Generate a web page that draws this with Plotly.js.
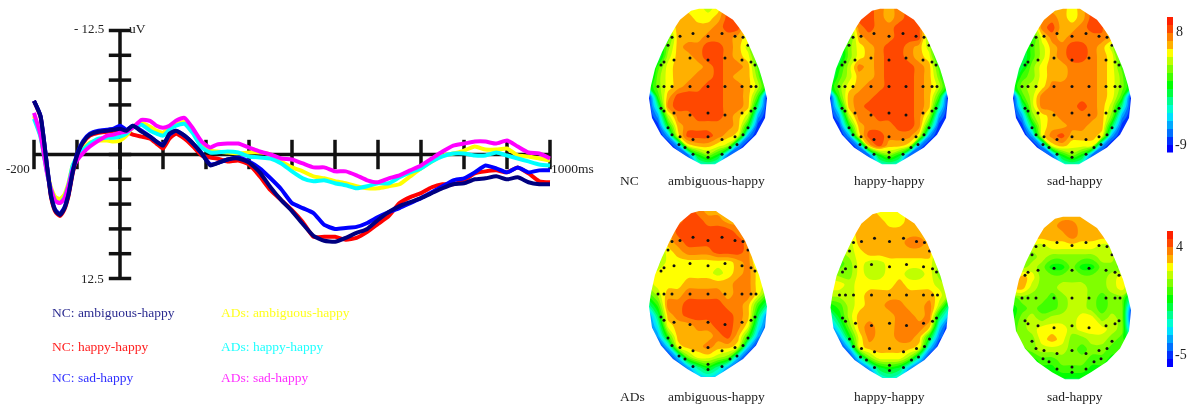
<!DOCTYPE html>
<html><head><meta charset="utf-8">
<script src="https://cdn.plot.ly/plotly-3.0.1.min.js"></script>
<style>html,body{margin:0;padding:0;background:#fff;overflow:hidden}#g{width:1192px;height:407px;filter:blur(0.4px)}</style>
</head><body><div id="g"></div>
<script>
// ---------- ERP waveforms (uV, negative up) ----------
const timesMs=[-200,-185,-170,-160,-150,-140,-130,-120,-110,-100,-85,-70,-50,-30,-15,0,15,30,50,70,85,100,115,130,150,170,190,210,225,250,275,300,325,350,375,400,425,450,475,500,525,550,575,600,625,650,675,700,725,750,775,800,825,850,875,900,925,950,975,1000];
const ncAmbiguous=[-5.4,-3.9,1.1,4.3,5.7,6.1,5.5,4.1,1.8,0.1,-1.3,-2.0,-2.3,-2.4,-2.5,-2.6,-2.4,-2.9,-2.3,-1.8,-1.3,-0.9,-2.1,-2.4,-1.9,-1.1,-0.1,1.1,0.9,0.5,0.4,0.8,1.8,3.3,4.6,5.7,7.0,8.2,8.7,8.8,8.4,7.9,7.5,6.6,5.8,5.2,4.8,4.4,3.9,3.4,3.0,2.9,2.5,2.4,2.2,2.5,2.3,2.8,3.0,3.0];
const ncHappy=[-5.4,-3.8,1.1,4.4,5.8,6.2,5.6,4.2,1.9,0.2,-1.2,-1.9,-2.2,-2.3,-2.4,-2.5,-2.3,-2.0,-1.8,-1.6,-1.1,-0.6,-1.6,-2.1,-1.6,-0.8,0.1,0.3,0.4,0.7,0.6,1.0,2.2,3.6,4.6,5.6,6.8,8.3,8.3,8.3,8.6,8.4,7.8,7.0,6.2,4.9,4.3,3.9,3.3,3.0,3.0,2.6,1.9,1.7,1.6,1.8,1.3,1.9,2.7,2.8];
const ncSad=[-5.4,-3.9,1.0,4.2,5.6,6.0,5.4,4.0,1.7,0.0,-1.4,-2.1,-2.4,-2.5,-2.6,-2.9,-2.5,-2.9,-2.4,-1.8,-1.3,-1.0,-2.0,-2.4,-1.9,-1.1,-0.1,1.0,0.9,0.5,0.3,0.7,1.4,2.4,3.5,4.9,5.4,5.9,7.1,7.5,7.4,7.3,6.9,6.3,5.8,5.4,4.9,4.4,3.8,3.2,2.6,2.4,1.8,1.1,1.4,1.8,1.3,1.8,1.6,1.6];
const adAmbiguous=[-3.9,-1.9,1.6,3.4,4.3,4.5,4.1,2.9,1.1,0.3,-0.6,-1.2,-1.4,-1.4,-1.3,-1.4,-1.9,-2.8,-3.2,-2.8,-2.4,-2.2,-2.7,-3.0,-3.3,-2.3,-0.9,-0.4,-0.3,-0.2,-0.1,-0.2,-0.2,0.0,0.7,1.3,1.7,2.2,2.4,2.7,2.9,3.2,3.4,3.4,3.2,3.0,2.2,1.4,0.7,0.1,-0.1,-0.4,-0.8,-0.5,-0.5,-0.6,0.1,0.2,0.4,0.6];
const adHappy=[-3.6,-1.8,1.8,3.6,4.7,4.9,4.4,3.1,1.1,0.3,-0.5,-1.1,-1.6,-1.7,-1.7,-1.8,-2.1,-2.8,-3.0,-2.4,-2.1,-1.9,-2.5,-2.9,-3.1,-2.1,-0.7,-0.2,-0.2,-0.3,-0.2,0.2,0.3,0.4,0.9,1.7,2.4,2.7,2.6,2.9,3.1,3.4,3.2,2.9,2.9,2.3,1.8,1.4,0.7,0.2,-0.1,-0.1,0.1,0.1,-0.2,0.1,0.4,0.7,1.0,1.1];
const adSad=[-4.2,-2.0,1.8,3.6,4.7,4.9,4.5,3.2,1.5,0.6,-0.2,-0.8,-1.4,-1.9,-2.0,-2.2,-2.3,-2.7,-3.5,-3.4,-2.9,-2.7,-2.9,-3.4,-3.7,-2.6,-1.3,-0.7,-1.0,-1.1,-1.1,-0.7,-0.3,0.0,0.4,0.5,0.9,1.3,1.3,1.7,1.7,2.1,2.6,2.8,2.4,2.1,1.6,1.1,0.4,-0.3,-0.9,-1.1,-1.3,-1.3,-1.1,-1.4,-0.8,-0.2,-0.1,0.4];
const xTicksMs=[-200,-100,0,100,200,300,400,500,600,700,800,900,1000];
const yTicksUv=[-12.5,-10,-7.5,-5,-2.5,0,2.5,5,7.5,10,12.5];
const seriesNames=['NC: happy-happy','ADs: ambiguous-happy','ADs: happy-happy','ADs: sad-happy','NC: sad-happy','NC: ambiguous-happy'];
const seriesColors=['#ff0000','#ffff00','#00ffff','#ff00ff','#0000ff','#000080'];
const seriesValues=[ncHappy,adAmbiguous,adHappy,adSad,ncSad,ncAmbiguous];

// ---------- Topographic band levels (0 = deepest blue .. 16 = red) ----------
const gridX=[-60,-50,-40,-30,-20,-10,0,10,20,30,40,50,60];
const gridY=[-80,-70,-60,-50,-40,-30,-20,-10,0,10,20,30,40,50,60,70,80];
const bandColors=['#0000ff','#0030ff','#0070ff','#00a8ff','#00e0ff','#00ffd0','#00ff90','#00ff40','#00ff00','#40ff00','#80ff00','#c0ff00','#ffff00','#ffb000','#ff8000','#ff4800','#ff2000'];
const mapNcAmbiguous=[
[12,12,12,12,12,12,11,12,15,15,15,15,15],
[12,12,12,13,13,12,12,13,15,15,15,13,12],
[10,10,11,13,13,13,13,14,15,15,12,10,10],
[6,7,9,13,13,13,14,14,14,13,12,8,6],
[6,6,10,13,14,14,15,15,14,13,11,7,6],
[5,6,11,13,13,14,15,15,14,13,12,8,5],
[5,9,12,13,13,13,14,15,14,14,13,9,5],
[5,10,12,13,13,14,14,15,14,13,13,10,5],
[7,10,12,13,14,14,15,15,14,14,13,11,7],
[0,9,13,15,15,15,15,15,14,14,13,9,0],
[0,6,14,15,15,15,15,15,14,14,13,6,0],
[0,3,11,14,14,15,15,15,14,13,11,3,0],
[0,1,8,13,14,14,14,14,14,13,8,1,0],
[0,0,3,12,15,15,15,14,13,12,3,0,0],
[0,0,0,3,12,13,13,12,11,3,0,0,0],
[0,0,0,0,2,8,10,8,2,0,0,0,0],
[0,0,0,0,0,4,5,4,0,0,0,0,0]];
const mapNcHappy=[
[14,14,14,14,15,14,13,14,15,15,15,15,15],
[14,14,14,15,15,14,13,14,15,15,15,15,15],
[9,9,10,14,15,14,14,15,15,15,11,9,9],
[6,6,9,13,14,14,14,15,15,15,10,6,6],
[6,6,10,12,13,14,15,15,14,13,11,6,6],
[5,6,10,12,13,14,15,15,14,13,12,7,5],
[5,8,11,14,13,14,15,15,15,14,13,9,5],
[5,9,11,13,13,14,15,15,15,14,13,10,5],
[7,10,12,13,14,14,15,15,15,14,13,11,7],
[0,9,13,14,14,15,15,15,15,14,13,9,0],
[0,6,13,14,15,15,15,15,15,14,13,6,0],
[0,3,11,14,14,15,15,15,15,14,11,3,0],
[0,1,8,13,14,14,14,15,15,14,8,1,0],
[0,0,3,12,15,15,14,14,14,12,3,0,0],
[0,0,0,3,13,15,13,13,12,3,0,0,0],
[0,0,0,0,2,8,10,8,2,0,0,0,0],
[0,0,0,0,0,4,5,4,0,0,0,0,0]];
const mapNcSad=[
[13,13,13,13,13,13,12,13,15,15,15,15,15],
[13,13,13,13,14,13,12,13,15,15,15,13,13],
[10,10,10,14,15,13,13,14,15,15,11,10,10],
[6,6,8,12,14,13,14,14,14,14,13,8,6],
[6,6,9,11,13,14,15,15,14,13,11,7,6],
[5,6,9,11,13,14,15,15,14,13,12,8,5],
[5,7,10,12,13,13,14,14,14,13,12,9,5],
[5,9,10,12,13,13,14,14,14,13,12,10,5],
[7,10,11,12,14,14,14,14,14,13,12,10,7],
[0,9,11,14,14,14,14,14,14,13,12,9,0],
[0,6,11,14,14,14,14,15,14,13,11,6,0],
[0,3,10,12,13,14,14,14,14,13,10,3,0],
[0,1,7,12,13,13,14,14,13,13,7,1,0],
[0,0,3,12,14,15,13,13,13,12,3,0,0],
[0,0,0,3,12,13,12,12,12,3,0,0,0],
[0,0,0,0,2,8,10,8,2,0,0,0,0],
[0,0,0,0,0,4,5,4,0,0,0,0,0]];
const mapAdAmbiguous=[
[14,14,14,14,15,14,13,13,13,13,13,13,13],
[14,14,14,14,15,15,14,14,13,13,13,13,13],
[14,14,13,15,15,15,15,15,15,14,13,13,13],
[10,11,13,14,15,15,15,15,15,15,14,11,10],
[8,10,12,13,14,14,14,15,15,15,14,10,8],
[9,10,12,12,12,12,12,12,12,13,14,11,9],
[11,12,12,12,12,12,12,11,12,13,14,12,11],
[11,12,12,12,13,13,13,13,13,14,14,12,11],
[9,11,13,13,14,14,14,14,13,14,14,12,9],
[6,9,14,14,15,15,15,15,14,14,13,9,6],
[2,7,13,14,15,15,15,15,15,14,13,7,2],
[1,5,12,13,13,14,14,15,15,14,12,5,1],
[0,3,9,13,13,13,13,14,15,13,9,3,0],
[0,0,4,12,13,13,14,13,13,12,4,0,0],
[0,0,0,4,10,12,12,11,10,4,0,0,0],
[0,0,0,0,3,6,8,6,3,0,0,0,0],
[0,0,0,0,0,3,4,3,0,0,0,0,0]];
const mapAdHappy=[
[13,13,13,13,13,12,12,12,13,13,13,13,13],
[13,13,13,13,13,13,12,12,13,13,13,13,13],
[12,12,12,13,13,13,13,13,13,13,13,12,12],
[10,10,11,13,13,13,13,13,14,14,13,12,10],
[9,10,11,12,13,13,13,13,13,13,13,10,9],
[9,9,10,12,11,11,12,12,12,12,12,10,9],
[11,10,10,12,11,11,12,12,11,11,12,10,9],
[12,12,11,12,12,12,12,13,12,12,12,11,10],
[11,11,11,12,13,13,13,13,13,13,13,12,10],
[8,9,11,12,13,13,14,14,13,13,14,11,6],
[5,8,11,13,13,13,13,14,14,13,14,7,3],
[2,6,10,13,14,13,13,14,14,14,13,4,0],
[0,3,8,12,14,13,13,14,14,13,8,2,0],
[0,0,4,12,13,13,13,13,13,12,4,0,0],
[0,0,0,5,10,12,12,12,10,5,0,0,0],
[0,0,0,0,3,7,8,7,3,0,0,0,0],
[0,0,0,0,0,4,5,4,0,0,0,0,0]];
const mapAdSad=[
[13,13,13,13,13,13,13,13,13,13,13,13,13],
[13,13,13,13,13,14,14,13,13,13,13,13,13],
[12,12,13,13,13,13,14,13,13,13,13,12,12],
[11,11,11,11,12,12,12,12,12,11,11,11,11],
[10,10,10,11,10,10,10,10,10,11,11,9,9],
[10,10,11,10,8,8,10,8,8,10,10,9,9],
[11,13,12,10,10,10,10,10,10,10,11,12,10],
[13,13,11,10,10,11,11,11,10,10,11,12,10],
[9,10,10,10,9,10,11,11,10,9,10,10,5],
[8,9,10,9,9,10,11,11,10,9,10,10,1],
[8,10,11,10,11,11,11,12,12,10,11,10,0],
[9,10,11,12,12,12,11,12,12,12,11,10,2],
[9,10,10,12,13,12,10,10,11,11,10,9,6],
[9,9,10,11,11,11,10,9,10,10,9,9,9],
[7,7,8,9,9,10,10,10,9,9,8,8,7],
[7,7,7,8,8,9,9,9,8,8,7,7,7],
[6,6,6,6,7,7,7,7,7,7,7,6,6]];
const mapNames=['NC ambiguous-happy','NC happy-happy','NC sad-happy','ADs ambiguous-happy','ADs happy-happy','ADs sad-happy'];
const mapValues=[mapNcAmbiguous,mapNcHappy,mapNcSad,mapAdAmbiguous,mapAdHappy,mapAdSad];
const mapCenterX=[708,889,1072,708,889.5,1072];
const mapCenterY=[85,85,85,294,295,298];
const mapScaleY=[1,1,1,1.05,1.05,1.03];

// Electrode sites, head-relative
const electrodeX=[-36,-28,-15,0,14,27,35,-40,40,-47,-44,-34,-18,0,17,34,43,47,-50,-44,-36,-18,0,17,34,43,48,-47,-44,-34,-18,0,17,34,43,47,-40,40,-36,-28,-15,0,14,27,35,-29,-23,-15,0,14,22,29,0];
const electrodeY=[-50,-51,-54,-51,-54,-51,-50,-42,-42,-22,-25,-27,-29,-27,-29,-27,-25,-22,0,0,0,0,0,0,0,0,0,22,25,27,29,27,29,27,25,22,42,42,49,51,54,51,54,51,49,59,62,69,67,69,62,59,72];

// Head outline, head-relative
const outlineY=[-79,-77,-68,-60,-51,-35,-18,-1,12,32,49,62,72,79];
const outlineLeft=[-9,-17,-28,-33,-38,-46,-53,-57,-59,-56,-47,-35,-20,-7];
const outlineRight=[8,11,25,31,37,44,51,56,59,57,48,35,19,7];

// Colour bars
const barLevels=bandColors.map((c,i)=>i);

const W=1192,H=407;
const scale=[];
bandColors.forEach((c,i)=>{scale.push([i/bandColors.length,c]);scale.push([(i+1)/bandColors.length,c]);});
const BLACK='#111';
const traces=[], shapes=[], ann=[];
const layout={width:W,height:H,margin:{l:0,r:0,t:0,b:0},paper_bgcolor:'#fff',plot_bgcolor:'rgba(0,0,0,0)',showlegend:false,shapes,annotations:ann};
function hidden(o){return Object.assign({visible:false,fixedrange:true},o);}

// ERP panel: 0.43 px/ms, 0 ms at 120 px
layout.xaxis=hidden({domain:[0,600/W],range:[-120/0.43,480/0.43]});
layout.yaxis=hidden({domain:[0,1],range:[(H-154.5)/9.92,-154.5/9.92]});
traces.push({x:[xTicksMs[0],xTicksMs[xTicksMs.length-1]],y:[0,0],mode:'lines',line:{color:BLACK,width:3.5},hoverinfo:'skip'});
traces.push({x:[0,0],y:[yTicksUv[0],yTicksUv[yTicksUv.length-1]],mode:'lines',line:{color:BLACK,width:3.5},hoverinfo:'skip'});
traces.push({x:xTicksMs,y:xTicksMs.map(()=>0),mode:'markers',marker:{symbol:'line-ns',size:21,line:{color:BLACK,width:3.5},color:BLACK},hoverinfo:'skip'});
traces.push({x:yTicksUv.map(()=>0),y:yTicksUv,mode:'markers',marker:{symbol:'line-ew',size:16,line:{color:BLACK,width:3.5},color:BLACK},hoverinfo:'skip'});
seriesValues.forEach((v,i)=>traces.push({name:seriesNames[i],x:timesMs,y:v,mode:'lines',line:{color:seriesColors[i],width:4,shape:'spline',smoothing:0.5}}));

// Topographic maps
const HX=66,HY=88;
mapValues.forEach((z,i)=>{
  const n=i+2, xk='x'+n, yk='y'+n, cx=mapCenterX[i], cy=mapCenterY[i], sy=mapScaleY[i];
  layout['xaxis'+n]=hidden({domain:[(cx-HX)/W,(cx+HX)/W],range:[-HX,HX],anchor:yk});
  layout['yaxis'+n]=hidden({domain:[1-(cy+HY*sy)/H,1-(cy-HY*sy)/H],range:[HY,-HY],anchor:xk});
  traces.push({type:'contour',name:mapNames[i],x:gridX,y:gridY,z:z,xaxis:xk,yaxis:yk,autocontour:false,contours:{type:'levels',start:0.5,end:15.5,size:1,coloring:'fill',showlines:false},line:{width:0,smoothing:1},colorscale:scale,showscale:false,hoverinfo:'skip'});
  traces.push({x:electrodeX,y:electrodeY,xaxis:xk,yaxis:yk,mode:'markers',marker:{size:3,color:'#111'},hoverinfo:'skip'});
  let p=`M${-HX-1},${-HY-1}H${HX+1}V${HY+1}H${-HX-1}Z M`;
  const pts=[];
  outlineY.forEach((y,k)=>pts.push(outlineRight[k]+','+y));
  for(let k=outlineY.length-1;k>=0;k--)pts.push(outlineLeft[k]+','+outlineY[k]);
  p+=pts.join('L')+'Z';
  shapes.push({type:'path',path:p,xref:xk,yref:yk,fillcolor:'#fff',fillrule:'evenodd',line:{width:0},layer:'above'});
});

// Colour bars
[[17,152.6],[231,367]].forEach((b,i)=>{
  const n=8+i,xk='x'+n,yk='y'+n;
  layout['xaxis'+n]=hidden({domain:[1167/W,1173/W],range:[-0.5,0.5],anchor:yk});
  layout['yaxis'+n]=hidden({domain:[1-b[1]/H,1-b[0]/H],range:[-0.5,bandColors.length-0.5],anchor:xk});
  traces.push({type:'heatmap',x:[0],y:barLevels,z:barLevels.map(l=>[l]),xaxis:xk,yaxis:yk,zmin:-0.5,zmax:bandColors.length-0.5,colorscale:scale,showscale:false,hoverinfo:'skip'});
});

// Text
const SERIF='"Liberation Serif",serif';
function label(t,x,y,size,color,anchor){ann.push({text:t,xref:'paper',yref:'paper',x:x/W,y:1-y/H,xanchor:anchor||'left',yanchor:'middle',showarrow:false,font:{family:SERIF,size:size,color:color||'#222'},borderpad:0});}
label('- 12.5',105,29,13,'#222','right');
label('uV',128,28,13.5);
label('12.5',105,278,13,'#222','right');
label('-200',5,169,13);
label('1000ms',550,169,13.5);
label('NC: ambiguous-happy',51,312,13.5,'#2b2b90');
label('NC: happy-happy',51,346,13.5,'#ff2020');
label('NC: sad-happy',51,377,13.5,'#3030ff');
label('ADs: ambiguous-happy',220,312,13.5,'#ffff20');
label('ADs: happy-happy',220,346,13.5,'#20ffff');
label('ADs: sad-happy',220,377,13.5,'#ff30ff');
label('NC',619,181,13.5);
label('ADs',619,396,13.5);
[[716,181],[889,181],[1075,181],[716,396],[889,396],[1075,396]].forEach((p,i)=>{
  label(['ambiguous-happy','happy-happy','sad-happy','ambiguous-happy','happy-happy','sad-happy'][i],p[0],p[1],13.5,'#222','center');
});
label('8',1179,32,14,'#222','center');
label('-9',1181,144,14,'#222','center');
label('4',1179,246,14,'#222','center');
label('-5',1181,354,14,'#222','center');

Plotly.newPlot('g',traces,layout,{displayModeBar:false,staticPlot:true});
</script></body></html>
